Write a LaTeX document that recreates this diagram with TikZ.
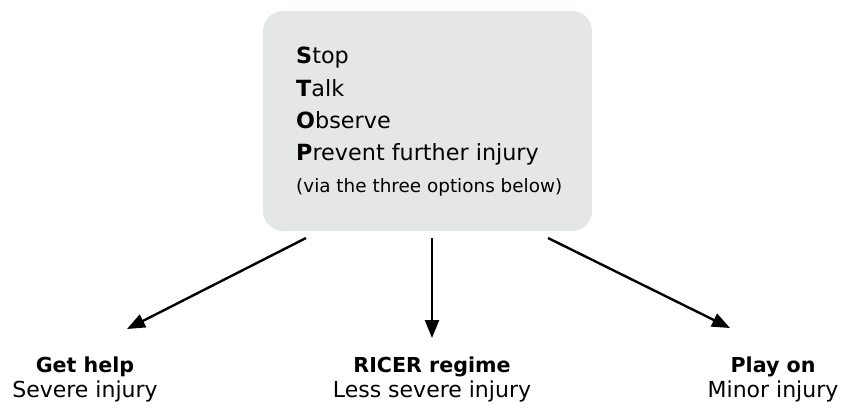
\documentclass[tikz,border=0pt]{standalone}
\usepackage{fontspec}
\setmainfont{DejaVu Sans}
\usetikzlibrary{arrows.meta}
\definecolor{boxgray}{RGB}{229,230,230}
\tikzset{
  stopbox/.style={draw=none, fill=boxgray, rounded corners=20pt, minimum width=329pt, minimum height=220pt, inner sep=0pt},
  line/.style={inner sep=0pt, anchor=base west, font=\fontsize{22.3}{26}\selectfont},
  small/.style={inner sep=0pt, anchor=base west, font=\fontsize{18.4}{22}\selectfont},
  title/.style={inner sep=0pt, anchor=base, font=\fontsize{20.6}{24}\selectfont\bfseries},
  sub/.style={inner sep=0pt, anchor=base, font=\fontsize{22}{26}\selectfont},
  arr/.style={line width=2.4pt, -{Triangle[length=18pt,width=14pt]}}
}
\begin{document}
\begin{tikzpicture}[x=1pt,y=-1pt]
\useasboundingbox (0,0) rectangle (843,410);
\node[stopbox] (stop) at (427.5,121) {};
\node[line] (l1) at (296,63) {{\bfseries S}top};
\node[line] (l2) at (296,96) {{\bfseries T}alk};
\node[line] (l3) at (296,128) {{\bfseries O}bserve};
\node[line] (l4) at (296,160) {{\bfseries P}revent further injury};
\node[small] (l5) at (296,192) {(via the three options below)};
\node[title] (t1) at (85,372) {Get help};
\node[sub] (s1) at (85,397) {Severe injury};
\node[title] (t2) at (432,372) {RICER regime};
\node[sub] (s2) at (432,397) {Less severe injury};
\node[title] (t3) at (773,372) {Play on};
\node[sub] (s3) at (773,397) {Minor injury};
\coordinate (a1) at (306,238);
\coordinate (a2) at (432,238);
\coordinate (a3) at (548,238);
\coordinate (b1) at (127,329);
\coordinate (b2) at (432,338);
\coordinate (b3) at (730,328);
\draw[arr] (a1) -- (b1);
\draw[arr] (a2) -- (b2);
\draw[arr] (a3) -- (b3);
\end{tikzpicture}
\end{document}
